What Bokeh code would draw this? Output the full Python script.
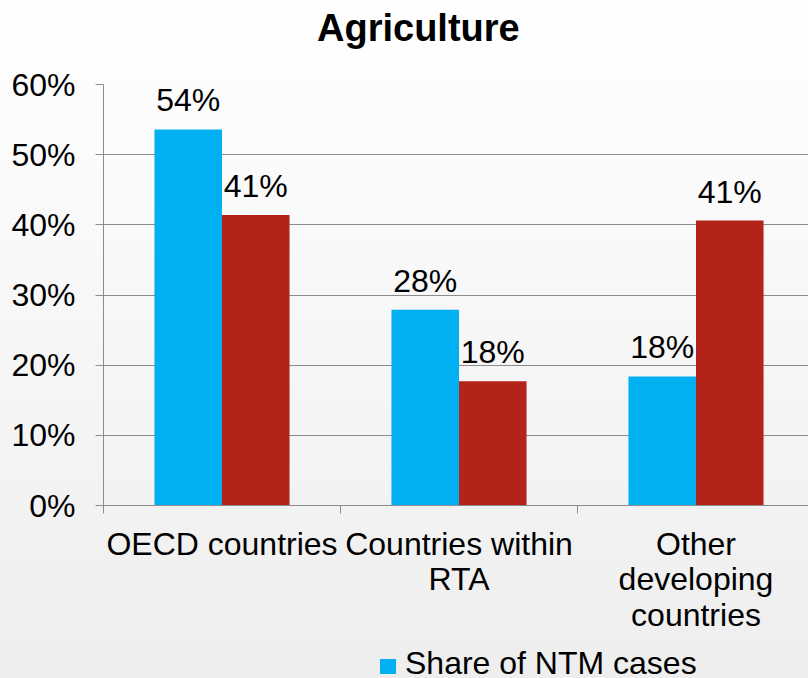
from bokeh.plotting import figure
from bokeh.models import (ColumnDataSource, Range1d, FixedTicker, NumeralTickFormatter, Div)
from bokeh.layouts import column
from bokeh.core.properties import value
from bokeh.embed import file_html
from bokeh.resources import INLINE

title_text = "Agriculture"
categories = ["OECD countries", "Countries within\nRTA", "Other\ndeveloping\ncountries"]
share_ntm = [0.536, 0.279, 0.184]
share_other = [0.414, 0.177, 0.406]
ntm_labels = ["54%", "28%", "18%"]
other_labels = ["41%", "18%", "41%"]
y_ticks = [0, 0.1, 0.2, 0.3, 0.4, 0.5, 0.6]
legend_label = "Share of NTM cases"

BLUE = "#00B0F0"
RED = "#B3231A"
FONT = "Liberation Sans"
bw = 0.285

idx = list(range(len(categories)))
src_b = ColumnDataSource(dict(x=[i + 0.5 - bw / 2 for i in idx], top=share_ntm, lab=ntm_labels))
src_r = ColumnDataSource(dict(x=[i + 0.5 + bw / 2 for i in idx], top=share_other, lab=other_labels))

title_div = Div(
    text=(f'<div style="font-family:\'{FONT}\';font-size:38px;font-weight:bold;line-height:38px;'
          f'white-space:nowrap;padding-left:317px;padding-top:9px;color:black;">{title_text}</div>'),
    width=808, height=60, styles={"overflow": "hidden", "margin": "0"})

p = figure(width=808, height=580, output_backend="svg", toolbar_location=None,
           x_range=Range1d(0, 705 / 237), y_range=Range1d(0, 0.6),
           min_border_left=103, min_border_right=0, min_border_top=24, min_border_bottom=135)
p.border_fill_alpha = 0
p.background_fill_alpha = 0
p.outline_line_color = None

rb = p.vbar(x="x", top="top", width=bw, bottom=0, source=src_b, fill_color=BLUE, line_color=None)
rr = p.vbar(x="x", top="top", width=bw, bottom=0, source=src_r, fill_color=RED, line_color=None)

for s in (src_b, src_r):
    p.text(x="x", y="top", text="lab", source=s, text_align="center", text_baseline="bottom",
           y_offset=-11, text_font=value(FONT), text_font_size="32px", text_color="black")

# y axis
p.yaxis.ticker = FixedTicker(ticks=y_ticks)
p.yaxis.formatter = NumeralTickFormatter(format="0%")
p.yaxis.major_label_text_font = FONT
p.yaxis.major_label_text_font_size = "32px"
p.yaxis.major_label_text_color = "black"
p.yaxis.axis_line_color = "#8c8c8c"
p.yaxis.major_tick_line_color = "#8c8c8c"
p.yaxis.major_tick_out = 8
p.yaxis.major_tick_in = 0
p.yaxis.minor_tick_line_color = None
p.yaxis.major_label_standoff = 20

# x axis
p.xaxis.ticker = FixedTicker(ticks=[i + 0.5 for i in idx], minor_ticks=[0, 1, 2, 3])
p.xaxis.major_label_overrides = {i + 0.5: c for i, c in zip(idx, categories)}
p.xaxis.major_label_text_font = FONT
p.xaxis.major_label_text_font_size = "32px"
p.xaxis.major_label_text_color = "black"
p.xaxis.major_label_text_line_height = 0.99
p.xaxis.axis_line_color = "#8c8c8c"
p.xaxis.major_tick_line_color = None
p.xaxis.minor_tick_line_color = "#8c8c8c"
p.xaxis.minor_tick_out = 8
p.xaxis.minor_tick_in = 0
p.xaxis.major_label_standoff = 12

p.xgrid.grid_line_color = None
p.ygrid.ticker = FixedTicker(ticks=y_ticks)
p.ygrid.grid_line_color = "#8c8c8c"
p.ygrid.grid_line_width = 1

legend_div = Div(
    text=(f'<div style="font-family:\'{FONT}\';font-size:32px;line-height:38px;white-space:nowrap;'
          f'padding-left:380px;padding-top:4px;color:black;">'
          f'<span style="display:inline-block;width:16px;height:15px;background:{BLUE};'
          f'margin-right:9px;vertical-align:baseline;"></span>'
          f'{legend_label}</div>'),
    width=808, height=38, styles={"overflow": "hidden", "margin": "0"})

layout = column(title_div, p, legend_div, spacing=0, width=808, height=678,
                styles={"background": "linear-gradient(#ffffff, #eeeeee)"})

open("out.html", "w").write(file_html(layout, INLINE))
